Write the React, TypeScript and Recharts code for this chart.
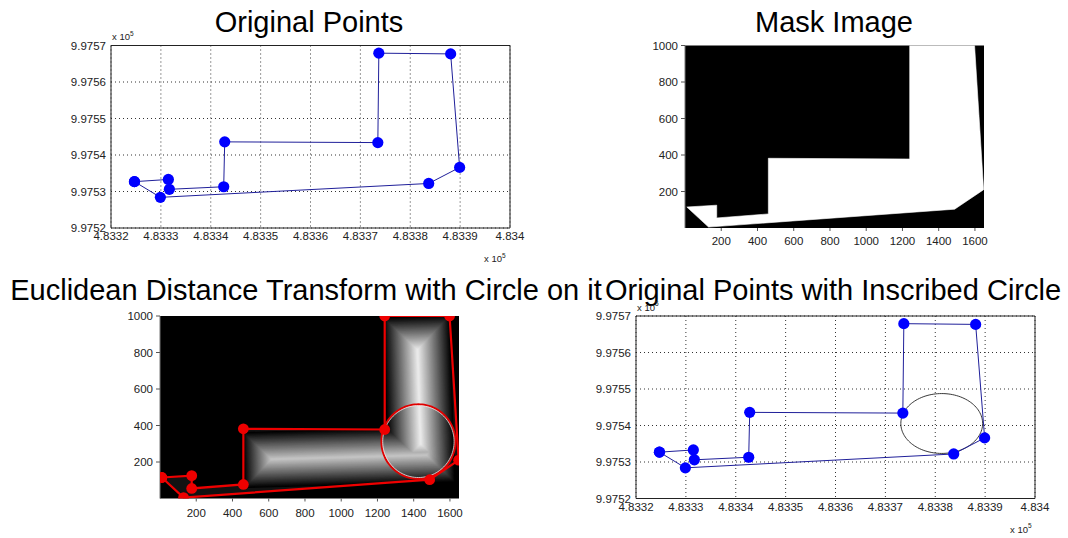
import React from 'react';
import { ScatterChart, Scatter, XAxis, YAxis, CartesianGrid, ReferenceArea } from 'recharts';

const W = 1068;
const H = 538;
const FONT = '"Liberation Sans", Arial, Helvetica, sans-serif';

// ---------- data ----------
// original points (real coordinates)
const origX = [483324.7, 483331.5, 483331.7, 483342.6, 483342.8, 483373.5, 483373.7, 483388.1, 483389.9, 483383.7, 483329.9];
const origY = [997532.7, 997533.3, 997530.6, 997531.3, 997543.6, 997543.4, 997567.9, 997567.7, 997536.6, 997532.2, 997528.4];
// same points in image (pixel) coordinates
const maskX = [10, 175, 175, 460, 460, 1240, 1240, 1598, 1648, 1488, 130];
const maskY = [115, 125, 55, 77, 382, 378, 1000, 1000, 210, 103, 5];

const realXTicks = [483320, 483330, 483340, 483350, 483360, 483370, 483380, 483390, 483400];
const realYTicks = [997520, 997530, 997540, 997550, 997560, 997570];
const imageXTicks = [200, 400, 600, 800, 1000, 1200, 1400, 1600];
const imageYTicks = [200, 400, 600, 800, 1000];
const realDomainX = [483320, 483400];
const realDomainY = [997520, 997570];
const imageDomainX = [0, 1650];
const imageDomainY = [0, 1000];

// inscribed circle: centre x, centre y, radius
const circleImage = [1426, 312, 204];
const circleReal = [483381.3, 997540.55, 8.2];

// medial ridges of the distance transform (image coords) and their half widths
const ridgeHX = [615, 1470];
const ridgeHY = [215, 238];
const ridgeHHalf = 155;
const ridgeVX = [1438, 1421];
const ridgeVY = [300, 815];
const ridgeVHalf = 185;
const dtMax = 197;

// ---------- layout ----------
type Box = { left: number; top: number; width: number; height: number };
const P1: Box = { left: 111, top: 45.5, width: 399, height: 182.5 };
const P2: Box = { left: 685, top: 45.5, width: 299, height: 182.5 };
const P3: Box = { left: 160, top: 316, width: 299, height: 182.5 };
const P4: Box = { left: 636, top: 316, width: 399, height: 182.5 };
const YW = 60;
const XH = 30;

const margins = (b: Box) => ({
  left: b.left - YW,
  top: b.top,
  right: W - b.left - b.width,
  bottom: H - b.top - b.height - XH,
});

const toPts = (xs: number[], ys: number[]) => xs.map((x, i) => ({ x, y: ys[i] }));
const closed = (pts: { x: number; y: number }[]) => [...pts, pts[0]];
const circlePts = (c: number[]) =>
  Array.from({ length: 121 }, (_, k) => {
    const a = (k / 120) * 2 * Math.PI;
    return { x: c[0] + c[2] * Math.cos(a), y: c[1] + c[2] * Math.sin(a) };
  });

const origPts = closed(toPts(origX, origY));
const maskPts = closed(toPts(maskX, maskY));

const tickStyle = { fontSize: 11.5, fill: '#222', fontFamily: FONT };
const fmt5 = (v: number) => String(+(v / 1e5).toFixed(4));

const Empty = () => <g />;
const dot = (color: string, r: number) => (p: any) =>
  p.cx == null ? <g /> : <circle cx={p.cx} cy={p.cy} r={r} fill={color} stroke="none" />;

const layer: React.CSSProperties = { position: 'absolute', left: 0, top: 0 };

function RealPanel({ box, withCircle }: { box: Box; withCircle: boolean }) {
  return (
    <div style={layer}>
      <ScatterChart width={W} height={H} margin={margins(box)}>
        <CartesianGrid stroke="#333" strokeDasharray="1 3" />
        <XAxis
          type="number"
          dataKey="x"
          domain={realDomainX}
          ticks={realXTicks}
          tickFormatter={fmt5}
          tick={tickStyle}
          tickLine={false}
          axisLine={false}
          tickSize={0}
          tickMargin={4}
          height={XH}
          allowDataOverflow
          interval={0}
        />
        <YAxis
          type="number"
          dataKey="y"
          domain={realDomainY}
          ticks={realYTicks}
          tickFormatter={fmt5}
          tick={tickStyle}
          tickLine={false}
          axisLine={false}
          tickSize={0}
          tickMargin={5}
          width={YW}
          allowDataOverflow
          interval={0}
        />
        <ReferenceArea
          x1={realDomainX[0]}
          x2={realDomainX[1]}
          y1={realDomainY[0]}
          y2={realDomainY[1]}
          fill="none"
          stroke="#222"
          strokeWidth={1}
          ifOverflow="visible"
        />
        {withCircle && (
          <Scatter
            data={circlePts(circleReal)}
            line={{ stroke: '#222', strokeWidth: 0.9 }}
            shape={Empty}
            isAnimationActive={false}
          />
        )}
        <Scatter
          data={origPts}
          line={{ stroke: '#20209a', strokeWidth: 1 }}
          shape={dot('#0000ff', 5.6)}
          isAnimationActive={false}
        />
      </ScatterChart>
    </div>
  );
}

function imageAxes(bottomMargin: number) {
  return [
    <XAxis
      key="xb"
      type="number"
      dataKey="x"
      domain={imageDomainX}
      ticks={imageXTicks}
      tick={tickStyle}
      tickLine={{ stroke: '#555' }}
      axisLine={false}
      tickSize={3}
      tickMargin={bottomMargin}
      height={XH}
      allowDataOverflow
      interval={0}
    />,
    <XAxis
      key="xt"
      xAxisId="top"
      orientation="top"
      type="number"
      domain={imageDomainX}
      ticks={imageXTicks}
      tick={false}
      tickLine={{ stroke: '#555' }}
      axisLine={{ stroke: '#777' }}
      tickSize={3}
      height={0}
      allowDataOverflow
      interval={0}
    />,
    <YAxis
      key="yl"
      type="number"
      dataKey="y"
      domain={imageDomainY}
      ticks={imageYTicks}
      tick={tickStyle}
      tickLine={{ stroke: '#555' }}
      axisLine={{ stroke: '#777' }}
      tickSize={4}
      tickMargin={3}
      width={YW}
      allowDataOverflow
      interval={0}
    />,
    <YAxis
      key="yr"
      yAxisId="right"
      orientation="right"
      type="number"
      domain={imageDomainY}
      ticks={imageYTicks}
      tick={false}
      tickLine={{ stroke: '#555' }}
      axisLine={false}
      tickSize={4}
      width={0}
      allowDataOverflow
      interval={0}
    />,
  ];
}

function MaskPanel() {
  return (
    <div style={layer}>
      <ScatterChart width={W} height={H} margin={margins(P2)}>
        <CartesianGrid fill="#000" stroke="none" horizontal={false} vertical={false} />
        {imageAxes(6)}
        <Scatter
          data={maskPts}
          line={{ fill: '#ffffff', stroke: '#ffffff', strokeWidth: 0.6 }}
          shape={Empty}
          isAnimationActive={false}
        />
      </ScatterChart>
    </div>
  );
}

const LEVEL_STEP = 5;
const levels = Array.from({ length: Math.ceil(ridgeVHalf / LEVEL_STEP) }, (_, k) => k * LEVEL_STEP);
const ridges = [
  { pts: toPts(ridgeHX, ridgeHY), half: ridgeHHalf },
  { pts: toPts(ridgeVX, ridgeVY), half: ridgeVHalf },
];

function DistancePanel() {
  const ppu = P3.width / (imageDomainX[1] - imageDomainX[0]);
  const bands: React.ReactNode[] = [];
  levels.forEach((d) => {
    const g = Math.round(255 * Math.min(1, d / dtMax));
    const color = `rgb(${g},${g},${g})`;
    ridges.forEach((r, i) => {
      if (d >= r.half) return;
      bands.push(
        <Scatter
          key={`b${d}-${i}`}
          data={r.pts}
          line={{ stroke: color, strokeWidth: 2 * (r.half - d) * ppu, strokeLinecap: 'square', fill: 'none' }}
          shape={Empty}
          isAnimationActive={false}
        />
      );
    });
  });
  return (
    <div style={layer}>
      <ScatterChart width={W} height={H} margin={margins(P3)}>
        <CartesianGrid fill="#000" stroke="none" horizontal={false} vertical={false} />
        {imageAxes(7)}
        <Scatter
          data={maskPts}
          line={{ fill: '#121212', stroke: '#121212', strokeWidth: 0.5 }}
          shape={Empty}
          isAnimationActive={false}
        />
        {bands}
        <Scatter
          data={circlePts(circleImage)}
          line={{ stroke: '#e00000', strokeWidth: 2 }}
          shape={Empty}
          isAnimationActive={false}
        />
        <Scatter
          data={circlePts([circleImage[0], circleImage[1], circleImage[2] - 7])}
          line={{ stroke: '#f6e6e6', strokeWidth: 0.8 }}
          shape={Empty}
          isAnimationActive={false}
        />
        <Scatter
          data={maskPts}
          line={{ stroke: '#ee0000', strokeWidth: 2.2 }}
          shape={dot('#ee0000', 5.4)}
          isAnimationActive={false}
        />
      </ScatterChart>
    </div>
  );
}

function X105({ x, y }: { x: number; y: number }) {
  return (
    <text x={x} y={y} fontSize={9.5} fill="#222" fontFamily={FONT}>
      x 10
      <tspan dy={-4.5} fontSize={6.5}>
        5
      </tspan>
    </text>
  );
}

export default function App() {
  const titleProps = { fontSize: 29, fill: '#000', fontFamily: FONT, textAnchor: 'middle' as const };
  return (
    <div style={{ position: 'absolute', left: 0, top: 0, width: W, height: H, background: '#fff', overflow: 'hidden' }}>
      <RealPanel box={P1} withCircle={false} />
      <MaskPanel />
      <DistancePanel />
      <RealPanel box={P4} withCircle={true} />
      <svg style={{ ...layer, pointerEvents: 'none' }} width={W} height={H}>
        <text x={309} y={31.5} {...titleProps}>Original Points</text>
        <text x={834} y={31.5} {...titleProps}>Mask Image</text>
        <text x={306} y={300} {...titleProps}>Euclidean Distance Transform with Circle on it</text>
        <text x={833} y={300} {...titleProps}>Original Points with Inscribed Circle</text>
        <X105 x={112} y={40} />
        <X105 x={484} y={262} />
        <X105 x={637} y={310.5} />
        <X105 x={1010} y={532.5} />
      </svg>
    </div>
  );
}
